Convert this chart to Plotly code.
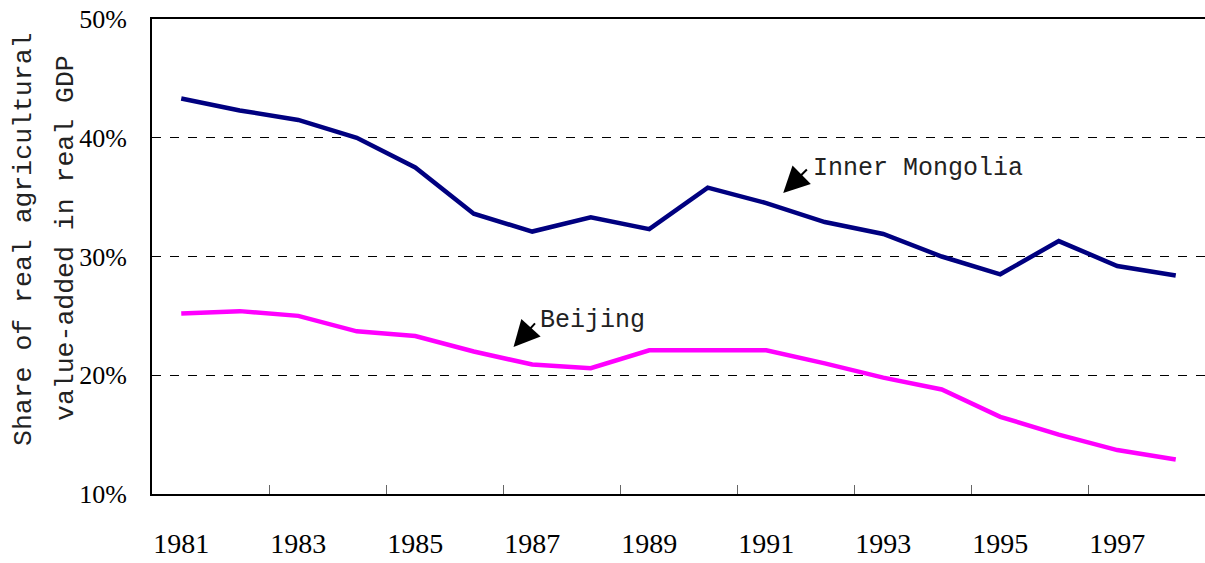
import plotly.graph_objects as go

years = list(range(1981, 1999))
inner_mongolia = [43.3, 42.3, 41.5, 40.0, 37.5, 33.6, 32.1, 33.3, 32.3, 35.8,
                  34.5, 32.9, 31.9, 30.0, 28.5, 31.3, 29.2, 28.4]
beijing = [25.2, 25.4, 25.0, 23.7, 23.3, 22.0, 20.9, 20.6, 22.1, 22.1,
           22.1, 21.0, 19.8, 18.8, 16.5, 15.0, 13.7, 12.9]
label_years = [1981, 1983, 1985, 1987, 1989, 1991, 1993, 1995, 1997]
y_ticks = [10, 20, 30, 40, 50]

serif = "Liberation Serif"
mono = "Liberation Mono"

fig = go.Figure()
fig.add_trace(go.Scatter(x=years, y=inner_mongolia, mode="lines", name="Inner Mongolia",
                         line=dict(color="#000080", width=4.5)))
fig.add_trace(go.Scatter(x=years, y=beijing, mode="lines", name="Beijing",
                         line=dict(color="#FF00FF", width=4.5)))
# invisible trace to activate the label axis
fig.add_trace(go.Scatter(x=[years[0]], y=[beijing[0]], xaxis="x2", mode="markers",
                         marker=dict(opacity=0), showlegend=False, hoverinfo="skip"))

tick_bounds = [y + 0.5 for y in range(1982, 1998, 2)]

fig.update_layout(
    width=1205, height=563,
    margin=dict(l=152, r=0, t=19, b=69),
    plot_bgcolor="white", paper_bgcolor="white",
    showlegend=False,
    xaxis=dict(range=[1980.5, 1998.5], tickvals=tick_bounds, showticklabels=False,
               ticks="inside", ticklen=9, tickwidth=1, tickcolor="#666",
               showline=True, linecolor="black", linewidth=2, mirror=True,
               showgrid=False, zeroline=False),
    xaxis2=dict(range=[1980.5, 1998.5], overlaying="x", side="bottom",
                tickvals=label_years, ticktext=[str(y) for y in label_years],
                ticks="", showline=False, showgrid=False, zeroline=False,
                ticklabelstandoff=30,
                tickfont=dict(family=serif, size=28, color="black")),
    yaxis=dict(range=[10, 50], tickvals=y_ticks, ticktext=[f"{v}%" for v in y_ticks],
               ticks="", showline=True, linecolor="black", linewidth=2,
               showgrid=True, gridcolor="black", griddash="dash", gridwidth=1,
               zeroline=False, ticklabelstandoff=18,
               tickfont=dict(family=serif, size=26, color="black")),
)

# y-axis title lines
fig.add_annotation(text="Share of real agricultural", xref="paper", yref="paper",
                   x=(24 - 152) / 1053, y=(494 - 240) / 475, textangle=-90,
                   showarrow=False, xanchor="center", yanchor="middle",
                   font=dict(family=mono, size=26.5, color="#222"))
fig.add_annotation(text="value-added in real GDP", xref="paper", yref="paper",
                   x=(66 - 152) / 1053, y=(494 - 238) / 475, textangle=-90,
                   showarrow=False, xanchor="center", yanchor="middle",
                   font=dict(family=mono, size=26.5, color="#222"))

# series labels with arrows
fig.add_annotation(text="", x=1991.29, y=35.35, ax=1991.72, ay=37.45,
                   axref="x", ayref="y", showarrow=True, arrowhead=2,
                   arrowsize=2.6, arrowwidth=2, arrowcolor="black")
fig.add_annotation(text="Inner Mongolia", x=1991.76, y=37.45, showarrow=False,
                   xanchor="left", yanchor="middle",
                   font=dict(family=mono, size=25, color="#222"))
fig.add_annotation(text="", x=1986.68, y=22.38, ax=1987.07, ay=24.5,
                   axref="x", ayref="y", showarrow=True, arrowhead=2,
                   arrowsize=2.6, arrowwidth=2, arrowcolor="black")
fig.add_annotation(text="Beijing", x=1987.1, y=24.57, showarrow=False,
                   xanchor="left", yanchor="middle",
                   font=dict(family=mono, size=25, color="#222"))

fig.write_html("out.html", config={"displayModeBar": False},
               post_script="document.body.style.margin='0';document.body.style.overflow='hidden';")
